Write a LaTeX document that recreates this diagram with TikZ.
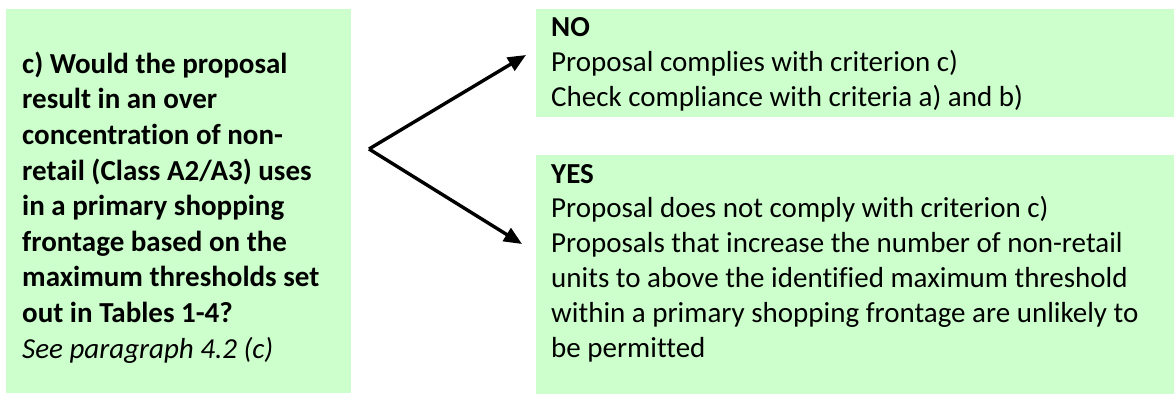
\documentclass[tikz,border=0pt]{standalone}
\usepackage{fontspec}
\setmainfont{Carlito}[Ligatures=NoCommon]
\usetikzlibrary{arrows.meta,calc}
\definecolor{boxgreen}{RGB}{204,255,204}
\tikzset{
  greenbox/.style={fill=boxgreen, draw=none, inner sep=0pt, anchor=north west},
  qtext/.style={anchor=base west, align=left, inner sep=0pt, font=\fontsize{29}{35.6}\selectfont},
  atext/.style={anchor=base west, align=left, inner sep=0pt, font=\fontsize{29}{34.8}\selectfont},
  arr/.style={line width=3.4pt, -{Triangle[length=18pt,width=15pt]}}
}
\begin{document}
\begin{tikzpicture}[x=1pt,y=-1pt]
\useasboundingbox (0,0) rectangle (1174,394);
% boxes
\node[greenbox, minimum width=345pt, minimum height=384pt] (q) at (6,9) {};
\node[greenbox, minimum width=638pt, minimum height=108pt] (no) at (536,9) {};
\node[greenbox, minimum width=638pt, minimum height=239pt] (yes) at (536,155) {};
% texts (anchored at the baseline of their last line)
\node[qtext] (qt) at ($(q.north west)+(16,349)$) {\textbf{c) Would the proposal}\\\textbf{result in an over}\\\textbf{concentration of non-}\\\textbf{retail (Class A2/A3) uses}\\\textbf{in a primary shopping}\\\textbf{frontage based on the}\\\textbf{maximum thresholds set}\\\textbf{out in Tables 1-4?}\\\textit{See paragraph 4.2 (c)}};
\node[atext] (not) at ($(no.north west)+(15,97)$) {\textbf{NO}\\Proposal complies with criterion c)\\Check compliance with criteria a) and b)};
\node[atext] (yest) at ($(yes.north west)+(15,202)$) {\textbf{YES}\\Proposal does not comply with criterion c)\\Proposals that increase the number of non-retail\\units to above the identified maximum threshold\\within a primary shopping frontage are unlikely to\\be permitted};
% connectors
\coordinate (fork) at (369,149);
\coordinate (notip) at (526,55);
\coordinate (yestip) at (522,244);
\draw[arr] (fork) -- (notip);
\draw[arr] (fork) -- (yestip);
\end{tikzpicture}
\end{document}
